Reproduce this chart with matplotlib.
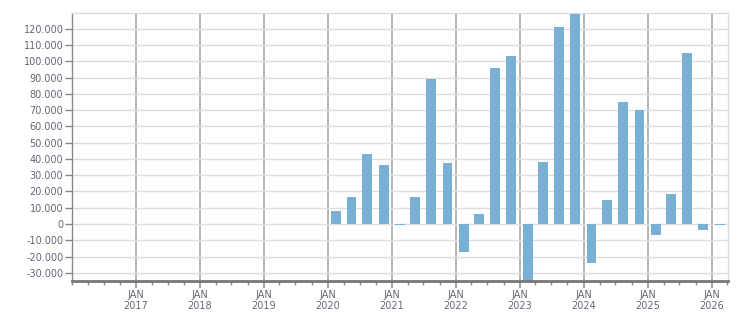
import matplotlib
matplotlib.use("Agg")
import matplotlib.pyplot as plt
import matplotlib.dates as mdates
import matplotlib.ticker as mticker
import datetime as dt

quarters = ["2020Q1", "2020Q2", "2020Q3", "2020Q4",
            "2021Q1", "2021Q2", "2021Q3", "2021Q4",
            "2022Q1", "2022Q2", "2022Q3", "2022Q4",
            "2023Q1", "2023Q2", "2023Q3", "2023Q4",
            "2024Q1", "2024Q2", "2024Q3", "2024Q4",
            "2025Q1", "2025Q2", "2025Q3", "2025Q4",
            "2026Q1"]
values = [8000, 16600, 43000, 36200,
          -500, 16600, 89000, 37500,
          -17200, 6100, 95700, 103000,
          -40000, 38000, 120800, 128800,
          -23900, 14700, 74800, 69900,
          -6700, 18400, 104900, -3700,
          -500]
y_ticks = list(range(-30000, 120001, 10000))
x_years = list(range(2017, 2027))

def q_mid(q):
    y = int(q[:4]); n = int(q[-1])
    start = dt.date(y, 3 * (n - 1) + 1, 1)
    return start + dt.timedelta(days=45)

xs = [q_mid(q) for q in quarters]

fig = plt.figure(figsize=(7.51, 3.13), dpi=100)
ax = fig.add_axes([0.0955, 0.1032, 0.9698 - 0.0955, 0.9575 - 0.1032])

ax.bar(xs, values, width=57, color="#78b1d4", zorder=3)

ax.set_xlim(dt.date(2016, 1, 1), dt.date(2026, 4, 6))
ax.set_ylim(-34850, 129500)

ax.set_yticks(y_ticks)
ax.yaxis.set_major_formatter(mticker.FuncFormatter(
    lambda v, p: f"{int(v):,}".replace(",", ".")))

ax.set_xticks([dt.date(y, 1, 1) for y in x_years])
ax.set_xticklabels([f"JAN\n{y}" for y in x_years])
ax.xaxis.set_minor_locator(mdates.MonthLocator(bymonth=[1, 4, 7, 10]))

ax.grid(axis="y", color="#dddddd", linewidth=1.0, zorder=0)
ax.grid(axis="x", which="major", color="#b0b0b0", linewidth=1.3, zorder=1)

for s in ["top", "right"]:
    ax.spines[s].set_color("#dddddd")
    ax.spines[s].set_linewidth(1.0)
ax.spines["left"].set_color("#888888")
ax.spines["left"].set_linewidth(1.0)
ax.spines["bottom"].set_color("#777777")
ax.spines["bottom"].set_linewidth(2.0)
ax.spines["bottom"].set_zorder(4)

ax.tick_params(axis="y", length=5, width=1, color="#888888", pad=1,
               labelsize=7, labelcolor="#666677")
ax.tick_params(axis="x", which="major", length=5, width=1.3, color="#999999",
               pad=2, labelsize=7, labelcolor="#666677")
ax.tick_params(axis="x", which="minor", length=3, width=1, color="#888888")
for lab in ax.get_xticklabels():
    lab.set_linespacing(1.05)

fig.savefig("out.png", dpi=100)
